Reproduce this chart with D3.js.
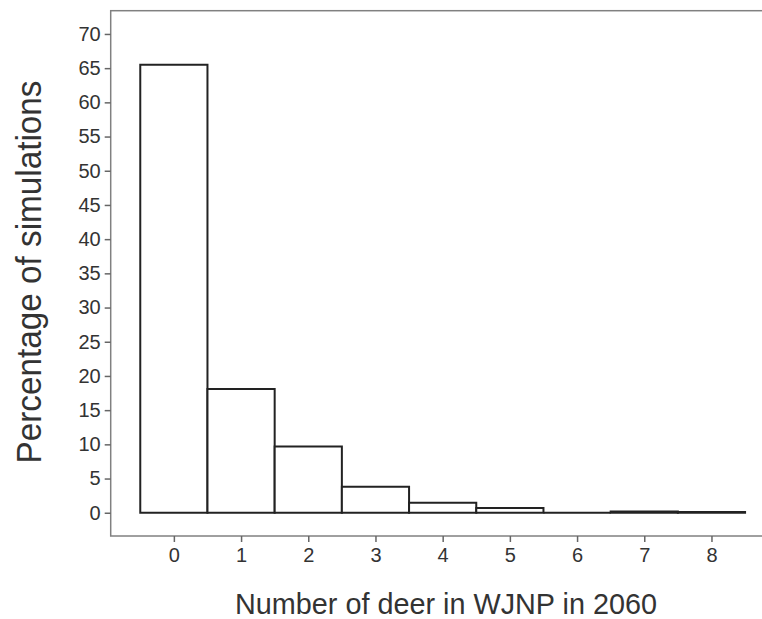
<!DOCTYPE html>
<html>
<head>
<meta charset="utf-8">
<script src="https://cdn.jsdelivr.net/npm/d3@7"></script>
<style>
  body { margin: 0; background: #fff; }
  svg { display: block; }
  text { font-family: "Liberation Sans", Arial, sans-serif; fill: #333; }
</style>
</head>
<body>
<svg id="chart" width="762" height="619"></svg>
<script>
// Data
const categories = [0, 1, 2, 3, 4, 5, 6, 7, 8];
const percentages = [65.5, 18.1, 9.7, 3.8, 1.45, 0.7, 0.0, 0.2, 0.1];
const yTicks = [0, 5, 10, 15, 20, 25, 30, 35, 40, 45, 50, 55, 60, 65, 70];
const xTicks = [0, 1, 2, 3, 4, 5, 6, 7, 8];
const xTitle = "Number of deer in WJNP in 2060";
const yTitle = "Percentage of simulations";

const svg = d3.select("#chart");
const plotLeft = 110.7, plotTop = 10.7, plotBottom = 536;

const x = d3.scaleLinear().domain([-0.94, 8.94]).range([plotLeft, plotLeft + 9.88 * 67.2]);
const y = d3.scaleLinear().domain([-3.4, 73.4]).range([plotBottom, plotTop]);

// frame (top, left, bottom; right edge outside the view)
svg.append("rect")
  .attr("x", plotLeft).attr("y", plotTop)
  .attr("width", x.range()[1] - plotLeft).attr("height", plotBottom - plotTop)
  .attr("fill", "none").attr("stroke", "#808080").attr("stroke-width", 1.5);

// bars (paths so that zero-height bars still show as a line)
svg.append("g").selectAll("path")
  .data(categories)
  .join("path")
  .attr("d", (d, i) => {
    const x0 = x(d - 0.5), x1 = x(d + 0.5), y0 = y(0), y1 = y(percentages[i]);
    return `M${x0},${y0}V${y1}H${x1}V${y0}Z`;
  })
  .attr("fill", "#fff")
  .attr("stroke", "#222")
  .attr("stroke-width", 2);

// y axis
const yAxis = svg.append("g")
  .attr("transform", `translate(${plotLeft},0)`)
  .call(d3.axisLeft(y).tickValues(yTicks).tickSize(6).tickPadding(4));
yAxis.select(".domain").remove();
yAxis.selectAll(".tick line").attr("stroke", "#666").attr("stroke-width", 1.5);
yAxis.selectAll(".tick text").attr("font-size", 20).attr("fill", "#333")
  .style("font-family", '"Liberation Sans", Arial, sans-serif');

// x axis
const xAxis = svg.append("g")
  .attr("transform", `translate(0,${plotBottom})`)
  .call(d3.axisBottom(x).tickValues(xTicks).tickSize(6).tickPadding(6).tickFormat(d3.format("d")));
xAxis.select(".domain").remove();
xAxis.selectAll(".tick line").attr("stroke", "#666").attr("stroke-width", 1.5);
xAxis.selectAll(".tick text").attr("font-size", 20).attr("fill", "#333")
  .style("font-family", '"Liberation Sans", Arial, sans-serif');

// titles
svg.append("text")
  .attr("x", 446).attr("y", 614)
  .attr("text-anchor", "middle")
  .attr("font-size", 30)
  .attr("textLength", 422).attr("lengthAdjust", "spacingAndGlyphs")
  .text(xTitle);

svg.append("text")
  .attr("transform", "translate(41,272) rotate(-90)")
  .attr("text-anchor", "middle")
  .attr("font-size", 35)
  .attr("textLength", 383).attr("lengthAdjust", "spacingAndGlyphs")
  .text(yTitle);
</script>
</body>
</html>
